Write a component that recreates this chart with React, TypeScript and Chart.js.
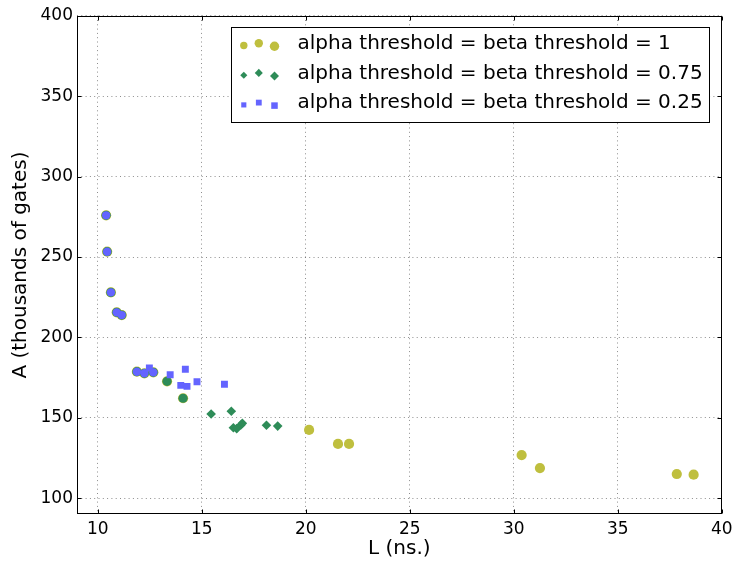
import React, { useEffect, useRef } from "react";
import { Chart, registerables } from "chart.js";

Chart.register(...registerables);

const seriesLabels = [
  "alpha threshold = beta threshold = 1",
  "alpha threshold = beta threshold = 0.75",
  "alpha threshold = beta threshold = 0.25",
];

// alpha threshold = beta threshold = 1
const s1X = [10.40, 10.45, 10.63, 10.91, 11.15, 11.88, 12.24, 12.67, 13.33, 14.10, 20.16, 21.55, 22.08, 30.38, 31.26, 37.84, 38.65];
const s1Y = [275.9, 253.3, 228.0, 215.6, 213.9, 178.7, 177.7, 178.3, 172.7, 162.2, 142.5, 133.8, 133.8, 126.9, 118.8, 115.1, 114.7];

// alpha threshold = beta threshold = 0.75
const s2X = [10.40, 10.45, 10.63, 10.91, 11.15, 11.88, 12.24, 12.67, 13.33, 14.10, 15.45, 16.42, 16.52, 16.68, 16.88, 16.95, 18.11, 18.65];
const s2Y = [275.9, 253.3, 228.0, 215.6, 213.9, 178.7, 177.7, 178.3, 172.7, 162.2, 152.4, 154.1, 143.9, 143.3, 145.6, 146.6, 145.4, 144.9];

// alpha threshold = beta threshold = 0.25
const s3X = [10.40, 10.45, 10.63, 10.91, 11.15, 11.88, 12.24, 12.67, 12.48, 13.48, 14.21, 13.99, 14.29, 14.77, 16.09];
const s3Y = [275.9, 253.3, 228.0, 215.6, 213.9, 178.7, 177.7, 178.3, 181.0, 176.8, 180.2, 170.2, 169.6, 172.5, 170.9];

const xTicks = [10, 15, 20, 25, 30, 35, 40];
const yTicks = [100, 150, 200, 250, 300, 350, 400];

const xTitle = "L (ns.)";
const yTitle = "A (thousands of gates)";

const COLORS = ["rgb(191,191,62)", "rgb(46,140,88)", "rgb(100,100,255)"];
const LEGEND_STYLES = ["circle", "rectRot", "rect"];
const FONT = "'DejaVu Sans', 'Liberation Sans', sans-serif";

const toPoints = (xs: number[], ys: number[]) => xs.map((x, i) => ({ x, y: ys[i] }));
const sharedWithFirst = (c: any) =>
  !!c.raw && s1X.some((v, i) => v === c.raw.x && s1Y[i] === c.raw.y);

function drawMarker(ctx: CanvasRenderingContext2D, style: string, x: number, y: number, r: number, color: string) {
  ctx.fillStyle = color;
  ctx.beginPath();
  if (style === "circle") {
    ctx.arc(x, y, r, 0, Math.PI * 2);
  } else if (style === "rectRot") {
    ctx.moveTo(x - r, y);
    ctx.lineTo(x, y - r);
    ctx.lineTo(x + r, y);
    ctx.lineTo(x, y + r);
    ctx.closePath();
  } else {
    const s = r * Math.SQRT1_2;
    ctx.rect(x - s, y - s, 2 * s, 2 * s);
  }
  ctx.fill();
}

const framePlugin = {
  id: "frameAndLegend",
  afterDraw(chart: any) {
    const { ctx, chartArea: a, scales } = chart;
    ctx.save();
    ctx.strokeStyle = "#000";
    ctx.lineWidth = 1;
    const L = Math.round(a.left) + 0.5;
    const R = Math.round(a.right) - 0.5;
    const T = Math.round(a.top) + 0.5;
    const B = Math.round(a.bottom) - 0.5;
    ctx.strokeRect(L, T, R - L, B - T);
    ctx.beginPath();
    for (const v of xTicks) {
      const px = Math.round(scales.x.getPixelForValue(v)) + 0.5;
      ctx.moveTo(px, B);
      ctx.lineTo(px, B - 4);
      ctx.moveTo(px, T);
      ctx.lineTo(px, T + 4);
    }
    for (const v of yTicks) {
      const py = Math.round(scales.y.getPixelForValue(v)) + 0.5;
      ctx.moveTo(L, py);
      ctx.lineTo(L + 4, py);
      ctx.moveTo(R, py);
      ctx.lineTo(R - 4, py);
    }
    ctx.stroke();

    // legend box
    const boxW = 478;
    const boxH = 95;
    const bx = Math.round(a.right - 12.7 - boxW) + 0.5;
    const by = Math.round(a.top + 11.3) + 0.5;
    ctx.fillStyle = "#fff";
    ctx.fillRect(bx, by, boxW, boxH);
    ctx.strokeStyle = "#000";
    ctx.strokeRect(bx, by, boxW, boxH);
    const markerX = [12.3, 27.3, 43];
    const markerDY = [1.7, -0.6, 2.4];
    const markerScale = [0.74, 0.84, 0.94];
    const baseR = [5, 4.8, 4.9];
    ctx.font = `20px ${FONT}`;
    ctx.textBaseline = "middle";
    ctx.textAlign = "left";
    chart.data.datasets.forEach((ds: any, i: number) => {
      const rowY = by + 16.3 + i * 29.7;
      for (let k = 0; k < 3; k++) {
        drawMarker(ctx, LEGEND_STYLES[i], bx + markerX[k], rowY + markerDY[k], baseR[i] * markerScale[k], COLORS[i]);
      }
      ctx.fillStyle = "#000";
      ctx.fillText(ds.label, bx + 66, rowY);
    });
    ctx.restore();
  },
};

export default function App() {
  const ref = useRef<HTMLCanvasElement | null>(null);

  useEffect(() => {
    if (!ref.current) return;
    const gridCommon = {
      color: "rgba(0,0,0,0.45)",
      lineWidth: 1,
      drawTicks: false,
    };
    const borderCommon = { display: false, dash: [1, 3.3] };
    const chart = new Chart(ref.current, {
      type: "scatter",
      data: {
        datasets: [
          {
            label: seriesLabels[0],
            data: toPoints(s1X, s1Y),
            backgroundColor: COLORS[0],
            pointStyle: "circle",
            pointRadius: 5.1,
            pointHoverRadius: 5.1,
            pointBorderWidth: 0,
            order: 3,
          },
          {
            label: seriesLabels[1],
            data: toPoints(s2X, s2Y),
            backgroundColor: COLORS[1],
            pointStyle: (c: any) => (sharedWithFirst(c) ? "circle" : "rectRot"),
            pointRadius: (c: any) => (sharedWithFirst(c) ? 4.6 : 4.8),
            pointHoverRadius: (c: any) => (sharedWithFirst(c) ? 4.6 : 4.8),
            pointBorderWidth: 0,
            order: 2,
          },
          {
            label: seriesLabels[2],
            data: toPoints(s3X, s3Y),
            backgroundColor: COLORS[2],
            pointStyle: (c: any) => (sharedWithFirst(c) ? "circle" : "rect"),
            pointRadius: (c: any) => (sharedWithFirst(c) ? 4.2 : 4.9),
            pointHoverRadius: (c: any) => (sharedWithFirst(c) ? 4.2 : 4.9),
            pointBorderWidth: 0,
            order: 1,
          },
        ],
      },
      options: {
        responsive: false,
        animation: false,
        events: [],
        layout: { padding: { top: 15.7, right: 12.3, left: 0, bottom: 0 } },
        plugins: {
          legend: { display: false },
          tooltip: { enabled: false },
        },
        scales: {
          x: {
            type: "linear",
            min: 9,
            max: 40,
            afterBuildTicks: (s: any) => {
              s.ticks = xTicks.map((v) => ({ value: v }));
            },
            afterFit: (s: any) => {
              s.height = 47.6;
              s.paddingLeft = 0;
              s.paddingRight = 0;
            },
            grid: gridCommon,
            border: borderCommon,
            ticks: {
              color: "#000",
              font: { family: FONT, size: 17 },
              padding: 5,
              maxRotation: 0,
              callback: (v: any) => String(v),
            },
            title: {
              display: true,
              text: xTitle,
              color: "#000",
              font: { family: FONT, size: 20 },
              padding: { top: 0, bottom: 1 },
            },
          },
          y: {
            type: "linear",
            min: 90,
            max: 400,
            afterBuildTicks: (s: any) => {
              s.ticks = yTicks.map((v) => ({ value: v }));
            },
            afterFit: (s: any) => {
              s.width = 77;
              s.paddingTop = 0;
              s.paddingBottom = 0;
            },
            grid: gridCommon,
            border: borderCommon,
            ticks: {
              color: "#000",
              font: { family: FONT, size: 17 },
              padding: 4,
              callback: (v: any) => String(v),
            },
            title: {
              display: true,
              text: yTitle,
              color: "#000",
              font: { family: FONT, size: 20 },
              padding: { top: 9, bottom: 0 },
            },
          },
        },
      },
      plugins: [framePlugin],
    } as any);
    return () => chart.destroy();
  }, []);

  return (
    <div style={{ position: "fixed", left: 0, top: 0, width: 734, height: 562, background: "#fff" }}>
      <canvas ref={ref} width={734} height={562} style={{ display: "block", width: 734, height: 562 }} />
    </div>
  );
}
